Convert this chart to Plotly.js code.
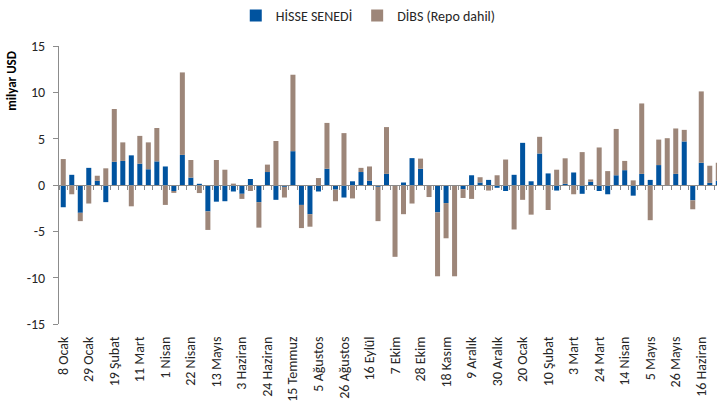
<!DOCTYPE html>
<html>
<head>
<meta charset="utf-8">
<script src="https://cdn.plot.ly/plotly-3.0.1.min.js"></script>
<style>
  html, body { margin: 0; padding: 0; background: #ffffff; }
  #chart { width: 717px; height: 412px; }
</style>
</head>
<body>
<div id="chart"></div>
<script>
// Weekly dates (Fridays), Jan 2016 - Jun 2017
const weeks = [
  "2016-01-08","2016-01-15","2016-01-22","2016-01-29",
  "2016-02-05","2016-02-12","2016-02-19","2016-02-26",
  "2016-03-04","2016-03-11","2016-03-18","2016-03-25",
  "2016-04-01","2016-04-08","2016-04-15","2016-04-22","2016-04-29",
  "2016-05-06","2016-05-13","2016-05-20","2016-05-27",
  "2016-06-03","2016-06-10","2016-06-17","2016-06-24",
  "2016-07-01","2016-07-08","2016-07-15","2016-07-22","2016-07-29",
  "2016-08-05","2016-08-12","2016-08-19","2016-08-26",
  "2016-09-02","2016-09-09","2016-09-16","2016-09-23","2016-09-30",
  "2016-10-07","2016-10-14","2016-10-21","2016-10-28",
  "2016-11-04","2016-11-11","2016-11-18","2016-11-25",
  "2016-12-02","2016-12-09","2016-12-16","2016-12-23","2016-12-30",
  "2017-01-06","2017-01-13","2017-01-20","2017-01-27",
  "2017-02-03","2017-02-10","2017-02-17","2017-02-24",
  "2017-03-03","2017-03-10","2017-03-17","2017-03-24","2017-03-31",
  "2017-04-07","2017-04-14","2017-04-21","2017-04-28",
  "2017-05-05","2017-05-12","2017-05-19","2017-05-26",
  "2017-06-02","2017-06-09","2017-06-16","2017-06-23","2017-06-30"
];

// Tick labels shown every third week
const tickLabels = [
  "8 Ocak","29 Ocak","19 Şubat","11 Mart","1 Nisan","22 Nisan","13 Mayıs",
  "3 Haziran","24 Haziran","15 Temmuz","5 Ağustos","26 Ağustos","16 Eylül",
  "7 Ekim","28 Ekim","18 Kasım","9 Aralık","30 Aralık","20 Ocak","10 Şubat",
  "3 Mart","24 Mart","14 Nisan","5 Mayıs","26 Mayıs","16 Haziran"
];

const yTicks = [-15, -10, -5, 0, 5, 10, 15];

const seriesNames = ["HİSSE SENEDİ", "DİBS (Repo dahil)"];

// HİSSE SENEDİ (billion USD)
const hisse = [
  -2.4, 1.1, -3.0, 1.85, 0.45, -1.85, 2.5, 2.6, 3.2, 2.3,
  1.7, 2.55, 2.0, -0.65, 3.25, 0.8, 0.13, -2.85, -1.8, -1.75,
  -0.7, -0.95, 0.65, -1.85, 1.4, -1.6, -0.2, 3.65, -2.15, -3.15,
  -0.7, 1.75, -0.5, -1.35, 0.4, 1.4, 0.45, -0.2, 1.2, 0.0,
  0.27, 2.9, 1.75, 0.0, -2.95, -1.95, 0.0, -0.45, 1.05, 0.27,
  0.55, -0.3, -0.65, 1.1, 4.55, 0.4, 3.4, 1.25, -0.6, 0.13,
  1.35, -0.95, 0.35, -0.65, -1.0, 1.05, 1.6, -1.15, 1.2, 0.55,
  2.15, 0.0, 1.2, 4.7, -1.65, 2.4, 0.23, 0.45
];

// DİBS (Repo dahil) (billion USD)
const dibs = [
  2.8, -1.0, -0.9, -2.0, 0.55, 1.8, 5.7, 2.0, -2.3, 3.0,
  2.9, 3.6, -2.15, -0.2, 8.9, 1.9, -0.87, -2.0, 2.7, 1.65,
  0.15, -0.55, -0.65, -2.75, 0.8, 4.75, -1.15, 8.25, -2.5, -1.35,
  0.75, 4.95, -1.25, 5.6, -1.45, 0.45, 1.55, -3.7, 5.05, -7.75,
  -3.15, -2.0, 1.1, -1.3, -6.9, -3.8, -9.85, -0.95, -1.5, 0.57,
  -0.6, 1.05, 2.75, -4.8, -1.6, -3.2, 1.8, -2.7, 1.65, 2.75,
  -1.0, 3.55, 0.25, 4.05, 1.5, 5.0, 1.0, 0.5, 7.6, -3.8,
  2.75, 5.05, 4.9, 1.25, -0.97, 7.7, 1.85, 1.95
];

const FONT = "Carlito, Calibri, 'Liberation Sans Narrow', 'Liberation Sans', sans-serif";
const tickVals = weeks.filter((w, i) => i % 3 === 0);

const traces = [
  {
    type: "bar", name: seriesNames[0], x: weeks, y: hisse,
    marker: { color: "#00539f" }, hoverinfo: "x+y+name"
  },
  {
    type: "bar", name: seriesNames[1], x: weeks, y: dibs,
    marker: { color: "#9d8679" }, hoverinfo: "x+y+name"
  },
  {
    // helper to register the zero-line axis
    type: "scatter", mode: "markers", x: [0], y: [null], xaxis: "x2", yaxis: "y",
    showlegend: false, hoverinfo: "skip"
  }
];

const xEnd = 76.85;

const layout = {
  width: 717, height: 412,
  margin: { l: 59, r: 0, t: 45, b: 88 },
  paper_bgcolor: "#ffffff",
  plot_bgcolor: "rgba(0,0,0,0)",
  barmode: "relative",
  bargap: 0.41,
  font: { family: FONT, size: 14, color: "#262626" },
  showlegend: true,
  legend: {
    orientation: "h", x: 0.47, xanchor: "center", y: 1.1075, yanchor: "middle",
    font: { family: FONT, size: 14, color: "#262626" },
    itemwidth: 30, traceorder: "normal"
  },
  xaxis: {
    type: "category",
    categoryorder: "array", categoryarray: weeks,
    range: [-0.5, xEnd],
    tickmode: "array", tickvals: tickVals, ticktext: tickLabels,
    tickangle: -90,
    ticks: "outside", ticklen: 6, tickcolor: "rgba(0,0,0,0)",
    showline: false, showgrid: false, zeroline: false,
    tickfont: { family: FONT, size: 14, color: "#262626" },
    fixedrange: true
  },
  xaxis2: {
    overlaying: "x", anchor: "free", position: 0.5,
    range: [-0.5, xEnd],
    tickmode: "linear", tick0: -0.5, dtick: 1,
    ticks: "outside", ticklen: 4, tickcolor: "#8c8c8c", tickwidth: 1,
    showline: true, linecolor: "#8c8c8c", linewidth: 1,
    showticklabels: false, showgrid: false, zeroline: false,
    fixedrange: true
  },
  yaxis: {
    range: [-15, 15],
    tickmode: "array", tickvals: yTicks, ticktext: yTicks.map(String),
    ticks: "outside", ticklen: 5, tickcolor: "#8c8c8c",
    showline: true, linecolor: "#8c8c8c", linewidth: 1,
    showgrid: false, zeroline: false,
    ticklabelstandoff: 5,
    tickfont: { family: FONT, size: 14, color: "#262626" },
    fixedrange: true
  },
  annotations: [
    {
      text: "<b>milyar USD</b>", xref: "paper", yref: "paper",
      x: -0.0714, y: 0.875, xanchor: "center", yanchor: "middle",
      textangle: -90, showarrow: false,
      font: { family: FONT, size: 13, color: "#000000" }
    }
  ]
};

Plotly.newPlot("chart", traces, layout, { displayModeBar: false, staticPlot: true });
</script>
</body>
</html>
